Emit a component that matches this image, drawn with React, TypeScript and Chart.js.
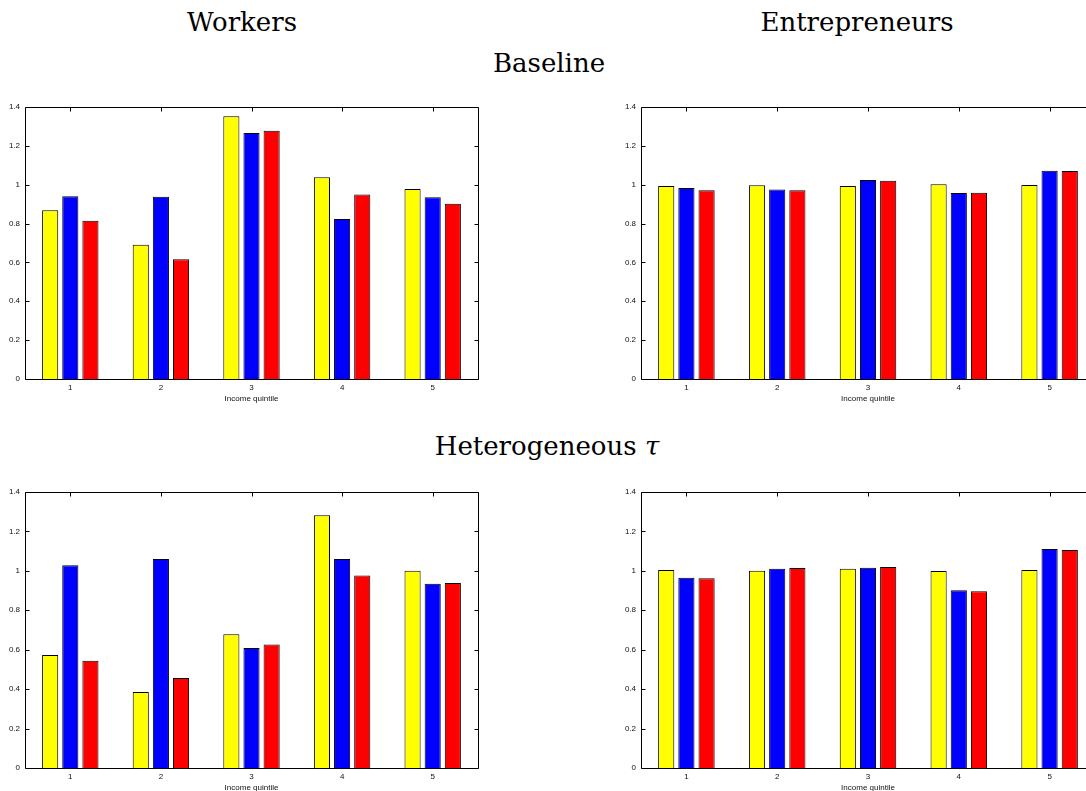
import React, { useEffect, useRef } from 'react';
import { Chart, registerables } from 'chart.js';

Chart.register(...registerables);

// ---- data ----
const quintiles = ['1', '2', '3', '4', '5'];
const yTickStep = 0.2;
const yMin = 0;
const yMax = 1.4;
const xAxisTitle = 'Income quintile';

const seriesColors = ['#ffff00', '#0000ff', '#ff0000'];

// Baseline – Workers
const baselineWorkersYellow = [0.868, 0.691, 1.352, 1.038, 0.978];
const baselineWorkersBlue = [0.94, 0.938, 1.266, 0.823, 0.935];
const baselineWorkersRed = [0.814, 0.617, 1.278, 0.95, 0.902];

// Baseline – Entrepreneurs
const baselineEntrepreneursYellow = [0.993, 0.997, 0.993, 1.002, 0.998];
const baselineEntrepreneursBlue = [0.983, 0.976, 1.024, 0.957, 1.072];
const baselineEntrepreneursRed = [0.972, 0.972, 1.021, 0.959, 1.07];

// Heterogeneous tau – Workers
const heteroWorkersYellow = [0.573, 0.386, 0.678, 1.282, 1.001];
const heteroWorkersBlue = [1.028, 1.06, 0.609, 1.06, 0.935];
const heteroWorkersRed = [0.544, 0.457, 0.627, 0.977, 0.938];

// Heterogeneous tau – Entrepreneurs
const heteroEntrepreneursYellow = [1.004, 1.0, 1.011, 0.999, 1.004];
const heteroEntrepreneursBlue = [0.965, 1.011, 1.016, 0.901, 1.111];
const heteroEntrepreneursRed = [0.962, 1.015, 1.02, 0.897, 1.106];

const tickFont = { family: '"Liberation Sans", Arial, Helvetica, sans-serif', size: 8 };

const framePlugin = {
  id: 'matlabFrame',
  beforeDatasetsDraw(chart: any) {
    const { ctx, chartArea: a, scales } = chart;
    const B = Math.round(a.bottom) + 0.5;
    ctx.save();
    ctx.strokeStyle = '#000';
    ctx.lineWidth = 1;
    ctx.beginPath();
    scales.x.ticks.forEach((_t: any, i: number) => {
      const x = Math.round(scales.x.getPixelForTick(i)) + 0.5;
      ctx.moveTo(x, B);
      ctx.lineTo(x, B - 4);
    });
    ctx.stroke();
    ctx.restore();
  },
  afterDatasetsDraw(chart: any) {
    const { ctx, chartArea: a, scales } = chart;
    const L = Math.round(a.left) + 0.5;
    const R = Math.round(a.right) + 0.5;
    const T = Math.round(a.top) + 0.5;
    const B = Math.round(a.bottom) + 0.5;
    const tl = 4;
    ctx.save();
    ctx.strokeStyle = '#000';
    ctx.lineWidth = 1;
    ctx.beginPath();
    scales.y.ticks.forEach((t: any) => {
      const y = Math.round(scales.y.getPixelForValue(t.value)) + 0.5;
      ctx.moveTo(L, y);
      ctx.lineTo(L + tl, y);
      ctx.moveTo(R, y);
      ctx.lineTo(R - tl, y);
    });
    scales.x.ticks.forEach((_t: any, i: number) => {
      const x = Math.round(scales.x.getPixelForTick(i)) + 0.5;
      ctx.moveTo(x, T);
      ctx.lineTo(x, T + tl);
    });
    ctx.rect(L, T, R - L, B - T);
    ctx.stroke();
    ctx.restore();
  },
};

type PanelProps = {
  left: number;
  top: number;
  width: number;
  height: number;
  series: number[][];
};

function Panel({ left, top, width, height, series }: PanelProps) {
  const ref = useRef<HTMLCanvasElement | null>(null);
  useEffect(() => {
    if (!ref.current) return;
    const chart = new Chart(ref.current, {
      type: 'bar',
      data: {
        labels: quintiles,
        datasets: series.map((vals, i) => ({
          data: vals,
          backgroundColor: seriesColors[i],
          borderColor: '#000',
          borderWidth: 1,
          categoryPercentage: 0.667,
          barPercentage: 0.8,
        })),
      },
      options: {
        animation: false,
        responsive: false,
        devicePixelRatio: 1,
        layout: { padding: { top: 12, right: 12, left: 0, bottom: 0 } },
        plugins: { legend: { display: false }, tooltip: { enabled: false }, title: { display: false } },
        scales: {
          x: {
            type: 'category',
            offset: true,
            grid: { display: false, drawTicks: false },
            border: { display: false },
            ticks: { font: tickFont, color: '#111', padding: 4, maxRotation: 0 },
            title: {
              display: true,
              text: xAxisTitle,
              font: tickFont,
              color: '#111',
              padding: { top: 0, bottom: 5 },
            },
            afterFit: (scale: any) => {
              scale.height = 30;
            },
          },
          y: {
            min: yMin,
            max: yMax,
            grid: { display: false, drawTicks: false },
            border: { display: false },
            ticks: {
              stepSize: yTickStep,
              font: tickFont,
              color: '#111',
              padding: 5,
              callback: (v: any) => String(Math.round(Number(v) * 10) / 10),
            },
            afterFit: (scale: any) => {
              scale.width = 25;
            },
          },
        },
      },
      plugins: [framePlugin],
    } as any);
    return () => chart.destroy();
  }, []);
  return (
    <canvas
      ref={ref}
      width={width}
      height={height}
      style={{ position: 'absolute', left, top, width, height }}
    />
  );
}

const titleStyle: React.CSSProperties = {
  position: 'absolute',
  width: 400,
  textAlign: 'center',
  fontFamily: '"DejaVu Serif", serif',
  fontSize: 26,
  lineHeight: '26px',
  color: '#000',
  whiteSpace: 'nowrap',
};

export default function App() {
  return (
    <div
      style={{
        position: 'absolute',
        left: 0,
        top: 0,
        width: 1086,
        height: 791,
        overflow: 'hidden',
        background: '#fff',
      }}
    >
      <div style={{ ...titleStyle, left: 242 - 200, top: 9 }}>Workers</div>
      <div style={{ ...titleStyle, left: 857 - 200, top: 9 }}>Entrepreneurs</div>
      <div style={{ ...titleStyle, left: 549 - 200, top: 50 }}>Baseline</div>
      <div style={{ ...titleStyle, left: 547 - 200, top: 433 }}>
        Heterogeneous <span style={{ fontStyle: 'italic' }}>τ</span>
      </div>

      <Panel
        left={0}
        top={95}
        width={490}
        height={314}
        series={[baselineWorkersYellow, baselineWorkersBlue, baselineWorkersRed]}
      />
      <Panel
        left={616}
        top={95}
        width={491}
        height={314}
        series={[baselineEntrepreneursYellow, baselineEntrepreneursBlue, baselineEntrepreneursRed]}
      />
      <Panel
        left={0}
        top={480}
        width={490}
        height={318}
        series={[heteroWorkersYellow, heteroWorkersBlue, heteroWorkersRed]}
      />
      <Panel
        left={616}
        top={480}
        width={491}
        height={318}
        series={[heteroEntrepreneursYellow, heteroEntrepreneursBlue, heteroEntrepreneursRed]}
      />
    </div>
  );
}
